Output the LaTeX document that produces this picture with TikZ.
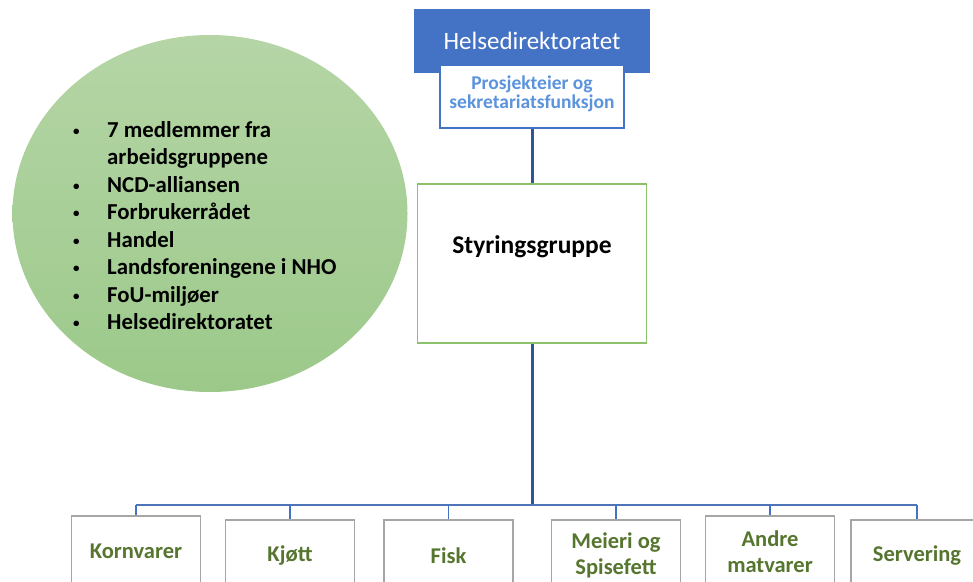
\documentclass[tikz,border=0pt]{standalone}
\usepackage{fontspec}
\setmainfont{Carlito}
\usetikzlibrary{shapes.geometric}
\definecolor{hblue}{HTML}{4472C4}
\definecolor{ptext}{HTML}{5B93DC}
\definecolor{lineblue}{HTML}{2F5597}
\definecolor{busblue}{HTML}{4F74B8}
\definecolor{styrgreen}{HTML}{8DC26C}
\definecolor{boxgrey}{HTML}{A6A6A6}
\definecolor{leafgreen}{HTML}{56762F}
\definecolor{circtop}{HTML}{B5D5A6}
\definecolor{circbot}{HTML}{9CC98A}
\newcommand{\smbul}{\raisebox{2pt}{\fontsize{13}{13}\selectfont\textbullet}}
\tikzset{
  topbox/.style={fill=hblue, draw=none, minimum width=236, minimum height=64, inner sep=0,
    text=white, font=\fontsize{25}{28}\selectfont},
  projbox/.style={fill=white, draw=hblue, line width=1.2pt, minimum width=184, minimum height=63,
    inner sep=0},
  projtext/.style={text=ptext, align=center, inner sep=0, font=\fontsize{19.5}{19.5}\selectfont\bfseries},
  styrbox/.style={fill=white, draw=styrgreen, line width=1.5pt, minimum width=229, minimum height=159, inner sep=0},
  leafbox/.style={fill=white, draw=boxgrey, line width=1.5pt, minimum width=129, minimum height=72,
    anchor=north, inner sep=0, text=leafgreen, align=center, font=\fontsize{22.5}{26}\selectfont\bfseries},
  mainline/.style={draw=lineblue, line width=3pt},
  busline/.style={draw=busblue, line width=2.5pt},
  dropline/.style={draw=hblue, line width=1.6pt},
}
\begin{document}
\begin{tikzpicture}[x=1pt,y=-1pt]
\useasboundingbox (0,0) rectangle (973,581);
\clip (0,0) rectangle (973,581);
% circle
\node[ellipse, draw=none, top color=circtop, bottom color=circbot, minimum width=395, minimum height=357, inner sep=0] (circ) at (210,213.5) {};
\node[anchor=base west, inner sep=0, font=\fontsize{22.8}{27.5}\selectfont\bfseries, text=black] (members) at (73,137)
 {\begin{tabular}[t]{@{}p{34pt}@{}l@{}}
  \smbul & 7 medlemmer fra\\
         & arbeidsgruppene\\
  \smbul & NCD-alliansen\\
  \smbul & Forbrukerrådet\\
  \smbul & Handel\\
  \smbul & Landsforeningene i NHO\\
  \smbul & FoU-miljøer\\
  \smbul & Helsedirektoratet
 \end{tabular}};
% top boxes
\node[topbox] (helse) at (532,41) {Helsedirektoratet};
\node[projbox, label={[projtext, yshift=2.5pt]center:{Prosjekteier og\\sekretariatsfunksjon}}] (proj) at (532,96.5) {};
\node[styrbox, label={[yshift=17pt, font=\fontsize{25.5}{28}\selectfont\bfseries]center:Styringsgruppe}] (styr) at (532,263.5) {};
\coordinate (bus) at (532,505);
% leaves
\node[leafbox] (korn) at (136,515) {Kornvarer};
\node[leafbox] (kjott) at (290,519) {Kjøtt};
\node[leafbox] (fisk) at (448.5,519) {Fisk};
\node[leafbox] (meieri) at (616,519) {Meieri og\\Spisefett};
\node[leafbox] (andre) at (770,515) {Andre\\matvarer};
\node[leafbox, minimum width=132] (serv) at (917,519) {Servering};
% connectors
\draw[mainline] (proj.south) -- (styr.north);
\draw[mainline] (styr.south) -- (styr.south |- bus);
\draw[busline] (korn.north |- bus) -- (serv.north |- bus);
\foreach \n in {korn,kjott,fisk,meieri,andre,serv}
  \draw[dropline] (\n.north |- bus) -- (\n.north);
\end{tikzpicture}
\end{document}
